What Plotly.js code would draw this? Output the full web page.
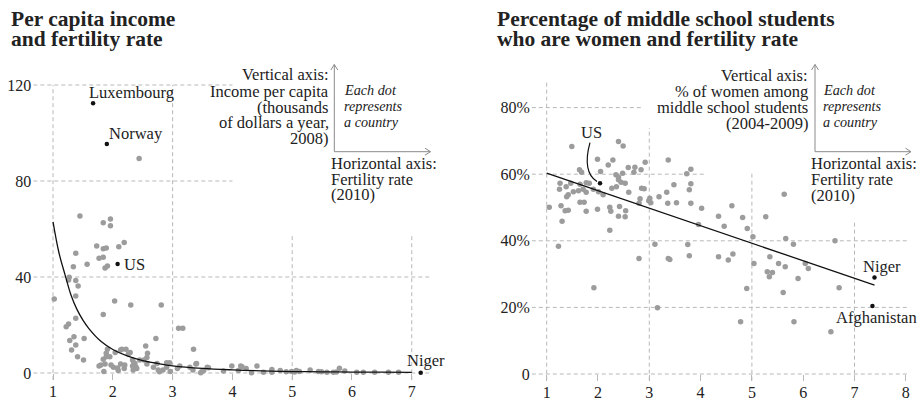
<!DOCTYPE html>
<html><head><meta charset="utf-8">
<script src="https://cdn.plot.ly/plotly-3.0.1.min.js"></script>
<style>html,body{margin:0;padding:0;background:#fff}</style>
</head><body><div id="chart" style="width:918px;height:402px"></div>
<script>
// ---------- DATA ----------
// Left panel: fertility rate (2010) vs income per capita (thousands $, 2008)
const incFert = [2.44,1.45,1.84,1.96,1.96,2.19,2.10,1.73,1.84,1.89,1.38,1.77,1.84,1.57,1.34,1.87,1.91,1.27,1.26,1.38,
  1.42,1.38,1.02,2.03,2.30,2.81,1.84,1.38,1.26,1.22,3.10,3.17,1.52,1.35,1.28,2.72,1.38,2.55,1.31,3.35,
  2.15,2.22,1.91,2.04,2.26,2.58,1.41,1.51,1.89,1.84,1.77,2.01,1.85,2.09,2.19,2.33,2.37,2.33,2.34,2.40,
  2.45,2.52,2.57,2.68,2.74,2.90,2.96,2.90,2.84,3.12,3.08,3.39,3.34,3.49,3.58,3.52,3.99,4.14,4.23,4.41,
  4.66,4.80,4.52,4.66,4.99,5.07,5.12,5.30,5.44,5.58,5.69,5.79,5.88,6.08,6.19,6.38,6.61,6.78,2.57,2.76,
  2.78,2.95,3.29,3.40,3.47,3.60,3.85,4.10,4.32,1.89,1.95,1.80,1.87,1.97,2.08,2.13,2.20,2.13,2.29,2.35,
  2.39,4.90,5.04,5.49,5.74,4.16];
const incIncome = [89.4,65.4,62.6,64.2,61.4,54.4,52.6,52.9,51.8,52.1,49.9,47.8,48.2,45.3,44.3,43.8,44.6,39.9,38.7,38.5,
  36.3,32.1,30.8,30.0,28.3,28.3,24.4,22.8,20.4,19.3,18.6,18.6,14.4,15.1,13.5,14.4,11.7,11.2,9.6,9.9,
  9.9,9.9,9.9,8.5,7.9,8.2,6.8,5.4,6.8,5.7,2.9,2.4,0.6,1.0,1.9,5.4,4.0,2.9,1.3,1.9,
  5.4,5.4,3.7,2.4,4.0,2.4,0.6,4.3,1.3,2.9,1.9,3.7,1.3,0.6,2.4,1.0,2.9,2.9,1.9,2.9,
  1.5,1.0,0.3,0.3,0.6,1.0,0.6,1.3,0.6,0.3,0.3,2.0,0.8,0.3,0.3,0.3,0.3,0.3,6.5,1.25,
  0.5,4.3,2.4,4.0,0.1,2.2,0.8,1.0,0.1,8.2,6.8,3.3,3.7,3.3,2.1,3.7,3.3,9.6,8.5,4.3,
  2.4,0.5,0.4,0.5,0.4,2.6];
const incNames = ["Luxembourg","Norway","US","Niger"];
const incNamedFert = [1.67,1.90,2.08,7.15];
const incNamedIncome = [112.4,95.4,45.4,0.1];
const incFitFert = [1.0,1.1,1.2,1.3,1.4,1.5,1.6,1.8,2.0,2.25,2.5,2.75,3.0,3.5,4.0,4.5,5.0,5.5,6.0,6.5,7.0];
const incFitIncome = [63,50,41,32.5,26.5,22,18.5,13.2,9.8,7.0,5.2,4.0,3.0,1.9,1.3,0.9,0.6,0.5,0.4,0.35,0.3];
const incXTicks = [1,2,3,4,5,6,7];
const incYTicks = [0,40,80,120];
const incYTickText = ["0","40","80","120"];

// Right panel: fertility rate (2010) vs % women among middle school students (2004-2009)
const sclFert = [1.49,2.40,2.49,1.99,2.29,2.20,1.64,1.68,2.05,2.35,2.40,2.48,2.59,2.72,2.70,2.84,2.92,3.37,3.73,3.81,
  3.81,3.78,3.48,3.34,3.19,3.01,2.99,3.03,2.85,2.90,2.82,2.80,2.60,2.53,2.45,2.36,2.27,2.10,2.01,1.91,
  1.77,1.71,1.77,1.62,1.47,1.38,1.26,1.25,1.42,1.39,1.65,1.73,1.05,1.28,1.36,1.42,1.77,1.99,2.23,2.25,
  2.42,2.54,2.40,2.53,1.30,2.23,1.23,3.36,3.53,3.81,4.02,4.35,4.61,4.46,3.96,4.82,4.91,5.02,5.27,5.63,
  5.66,5.81,6.62,3.11,3.75,2.80,3.37,3.40,3.78,4.35,4.54,4.63,5.04,5.35,5.52,5.65,6.04,6.10,5.30,5.40,
  5.34,5.90,1.92,3.16,4.90,4.78,5.61,5.82,6.70,6.54,1.52,1.83,1.65,2.40];
const sclWomen = [68.3,69.8,68.5,64.5,64.3,62.8,61.3,60.6,60.8,59.8,59.1,60.3,62.0,62.1,60.6,61.3,63.6,64.3,60.1,61.5,
  57.1,55.3,56.8,54.6,53.2,52.8,52.0,51.4,55.8,55.6,52.6,51.3,54.6,57.3,57.6,56.2,55.8,53.8,54.7,55.5,
  57.4,55.5,54.6,55.0,57.3,56.2,57.3,55.5,53.8,53.2,51.6,51.6,50.1,50.5,49.0,49.2,48.9,49.5,50.1,48.9,
  50.3,49.0,47.4,47.2,45.9,43.2,38.4,51.3,51.4,51.3,49.8,47.4,50.5,44.4,44.9,47.0,43.7,41.2,47.2,54.0,
  40.7,39.0,40.0,39.0,38.9,34.7,34.7,34.4,35.5,35.2,34.2,36.0,33.2,35.2,33.2,32.2,33.2,31.7,30.7,30.5,
  29.2,28.7,25.9,19.9,25.7,15.7,24.5,15.7,25.9,12.7,54.7,57.3,57.0,58.3];
const sclNames = ["US","Niger","Afghanistan"];
const sclNamedFert = [2.04,7.39,7.35];
const sclNamedWomen = [57.3,29.0,20.4];
const sclTrendFert = [1.0,7.39];
const sclTrendWomen = [60.3,26.7];
const sclXTicks = [1,2,3,4,5,6,7,8];
const sclYTicks = [0,20,40,60,80];
const sclYTickText = ["0","20%","40%","60%","80%"];

// ---------- STYLE / LAYOUT ----------
const W = 918, H = 402;
const SERIF = "Liberation Serif, Times New Roman, serif";
const INK = "#222";
const GREY_DOT = "#9c9c9c";
const GRID = "#b8b8b8";
const ARROW = "#8a8a8a";
const px = x => x / W;
const py = y => 1 - y / H;

const traces = [
  {x: incFert, y: incIncome, xaxis: "x", yaxis: "y", mode: "markers", type: "scatter",
   marker: {color: GREY_DOT, size: 5.5}, hoverinfo: "skip", cliponaxis: false},
  {x: incFitFert, y: incFitIncome, xaxis: "x", yaxis: "y", mode: "lines", type: "scatter",
   line: {color: "#111", width: 1.3, shape: "spline"}, hoverinfo: "skip"},
  {x: incNamedFert, y: incNamedIncome, xaxis: "x", yaxis: "y", mode: "markers", type: "scatter",
   marker: {color: "#111", size: 4.5}, hoverinfo: "skip", cliponaxis: false},
  {x: sclFert, y: sclWomen, xaxis: "x2", yaxis: "y2", mode: "markers", type: "scatter",
   marker: {color: GREY_DOT, size: 5.5}, hoverinfo: "skip"},
  {x: sclTrendFert, y: sclTrendWomen, xaxis: "x2", yaxis: "y2", mode: "lines", type: "scatter",
   line: {color: "#111", width: 1.3}, hoverinfo: "skip"},
  {x: sclNamedFert, y: sclNamedWomen, xaxis: "x2", yaxis: "y2", mode: "markers", type: "scatter",
   marker: {color: "#111", size: 4.5}, hoverinfo: "skip"}
];

const DASH = "4px,3px";
function gl(xref, yref, x0, y0, x1, y1) {
  return {type: "line", xref, yref, x0, y0, x1, y1, line: {color: GRID, width: 1, dash: DASH}, layer: "below"};
}
const shapes = [
  // left panel grid
  gl("x","y",0.67,120,4.0,120), gl("x","y",0.67,80,4.0,80),
  gl("x","y",0.67,40,7.30,40), gl("x","y",0.67,0,7.30,0),
  gl("x","y",1,-3,1,120), gl("x","y",3,-3,3,120),
  gl("x","y",5,-3,5,57.5), gl("x","y",7,-3,7,57.5),
  // right panel grid
  gl("x2","y2",0.71,80,2.86,80), gl("x2","y2",0.71,60,4.12,60),
  gl("x2","y2",0.71,40,8.08,40), gl("x2","y2",0.71,20,8.08,20), gl("x2","y2",0.71,0,8.08,0),
  gl("x2","y2",1,-2,1,87.8), gl("x2","y2",3,-2,3,73.9),
  gl("x2","y2",5,-2,5,60.3), gl("x2","y2",7,-2,7,46.2),
  // US curved pointer (right panel)
  {type: "path", xref: "x2", yref: "y2", path: "M1.844,69.5 Q1.688,60.7 1.98,57.8",
   line: {color: "#111", width: 1.2}}
];
// key arrows (pixel positions -> paper)
function pathPx(pts) {
  return pts.map((p, i) => (i ? "L" : "M") + px(p[0]).toFixed(5) + "," + py(p[1]).toFixed(5)).join(" ");
}
[[334.3, 430.5], [815, 911]].forEach(([ax, ex]) => {
  const ls = {color: ARROW, width: 1};
  shapes.push({type: "path", xref: "paper", yref: "paper", path: pathPx([[ax, 64.5], [ax, 151.7], [ex, 151.7]]), line: ls});
  shapes.push({type: "path", xref: "paper", yref: "paper", path: pathPx([[ax - 3.5, 70], [ax, 64.5], [ax + 3.5, 70]]), line: ls});
  shapes.push({type: "path", xref: "paper", yref: "paper", path: pathPx([[ex - 5.5, 148.2], [ex, 151.7], [ex - 5.5, 155.2]]), line: ls});
});

// text placed by pixel baseline
const annotations = [];
function T(text, x, base, anchor, size, extra) {
  const f = Object.assign({family: SERIF, size: size, color: INK}, (extra && extra.font) || {});
  annotations.push({text, xref: "paper", yref: "paper", x: px(x), y: py(base - 0.335 * size),
    xanchor: anchor, yanchor: "middle", showarrow: false, font: f, borderpad: 0});
}
const TS = 21.5, AS = 16.5, IS = 14.2;
// titles
T("<b>Per capita income</b>", 10, 26.7, "left", TS);
T("<b>and fertility rate</b>", 10, 46.7, "left", TS);
T("<b>Percentage of middle school students</b>", 496, 26.7, "left", TS);
T("<b>who are women and fertility rate</b>", 496, 46.7, "left", TS);
// left key
[["Vertical axis:", 80.5], ["Income per capita", 96.7], ["(thousands", 112.7], ["of dollars a year,", 128.5], ["2008)", 144.5]]
  .forEach(([t, b]) => T(t, 329.5, b, "right", AS));
[["Each dot", 95], ["represents", 111], ["a country", 127]].forEach(([t, b]) => T("<i>" + t + "</i>", 342.5, b, "left", IS));
[["Horizontal axis:", 169], ["Fertility rate", 185.3], ["(2010)", 200.5]].forEach(([t, b]) => T(t, 330, b, "left", AS));
// right key
[["Vertical axis:", 81.5], ["% of women among", 97.5], ["middle school students", 113.3], ["(2004-2009)", 129]]
  .forEach(([t, b]) => T(t, 808.5, b, "right", AS));
[["Each dot", 95], ["represents", 111], ["a country", 127]].forEach(([t, b]) => T("<i>" + t + "</i>", 821.5, b, "left", IS));
[["Horizontal axis:", 169.3], ["Fertility rate", 185.3], ["(2010)", 201]].forEach(([t, b]) => T(t, 810, b, "left", AS));

// point labels anchored to data points
function L(i, names, xs, ys, xa, ya, anchor, dx, dy) {
  annotations.push({text: names[i], x: xs[i], y: ys[i], xref: xa, yref: ya, showarrow: false,
    xanchor: anchor, yanchor: "middle", xshift: dx, yshift: dy, borderpad: 0,
    font: {family: SERIF, size: AS, color: INK}});
}
L(0, incNames, incNamedFert, incNamedIncome, "x", "y", "left", -5, 10.7);
L(1, incNames, incNamedFert, incNamedIncome, "x", "y", "left", 1.6, 10.4);
L(2, incNames, incNamedFert, incNamedIncome, "x", "y", "left", 5.6, 0);
L(3, incNames, incNamedFert, incNamedIncome, "x", "y", "center", 5.5, 12);
L(0, sclNames, sclNamedFert, sclNamedWomen, "x2", "y2", "center", -9, 50.7);
L(1, sclNames, sclNamedFert, sclNamedWomen, "x2", "y2", "center", 7.4, 11);
L(2, sclNames, sclNamedFert, sclNamedWomen, "x2", "y2", "center", 4.5, -11.3);

const tickFont = {family: SERIF, size: 16, color: INK};
function xax(domain, range, vals, anchor) {
  return {domain, range, tickvals: vals, ticktext: vals.map(String), ticks: "inside", ticklen: 6,
    tickcolor: GRID, tickwidth: 1, showgrid: false, zeroline: false, showline: false,
    tickfont: tickFont, anchor, fixedrange: true};
}
function yax(domain, range, vals, text, anchor) {
  return {domain, range, tickvals: vals, ticktext: text, ticks: "", showgrid: false, zeroline: false,
    showline: false, tickfont: tickFont, anchor, fixedrange: true, ticklabelstandoff: 1};
}
const layout = {
  width: W, height: H, autosize: false, showlegend: false,
  margin: {l: 0, r: 0, t: 0, b: 0, pad: 0},
  paper_bgcolor: "#fff", plot_bgcolor: "rgba(0,0,0,0)",
  font: {family: SERIF, color: INK},
  xaxis: xax([33.3 / W, 429.7 / W], [0.67, 7.30], incXTicks, "y"),
  yaxis: yax([(H - 380.2) / H, (H - 82.6) / H], [-3, 121], incYTicks, incYTickText, "x"),
  xaxis2: xax([531.8 / W, 909.9 / W], [0.71, 8.08], sclXTicks, "y2"),
  yaxis2: yax([(H - 380.66) / H, (H - 80.96) / H], [-2, 88], sclYTicks, sclYTickText, "x2"),
  shapes, annotations
};
Plotly.newPlot("chart", traces, layout, {staticPlot: true, displayModeBar: false});
</script></body></html>
